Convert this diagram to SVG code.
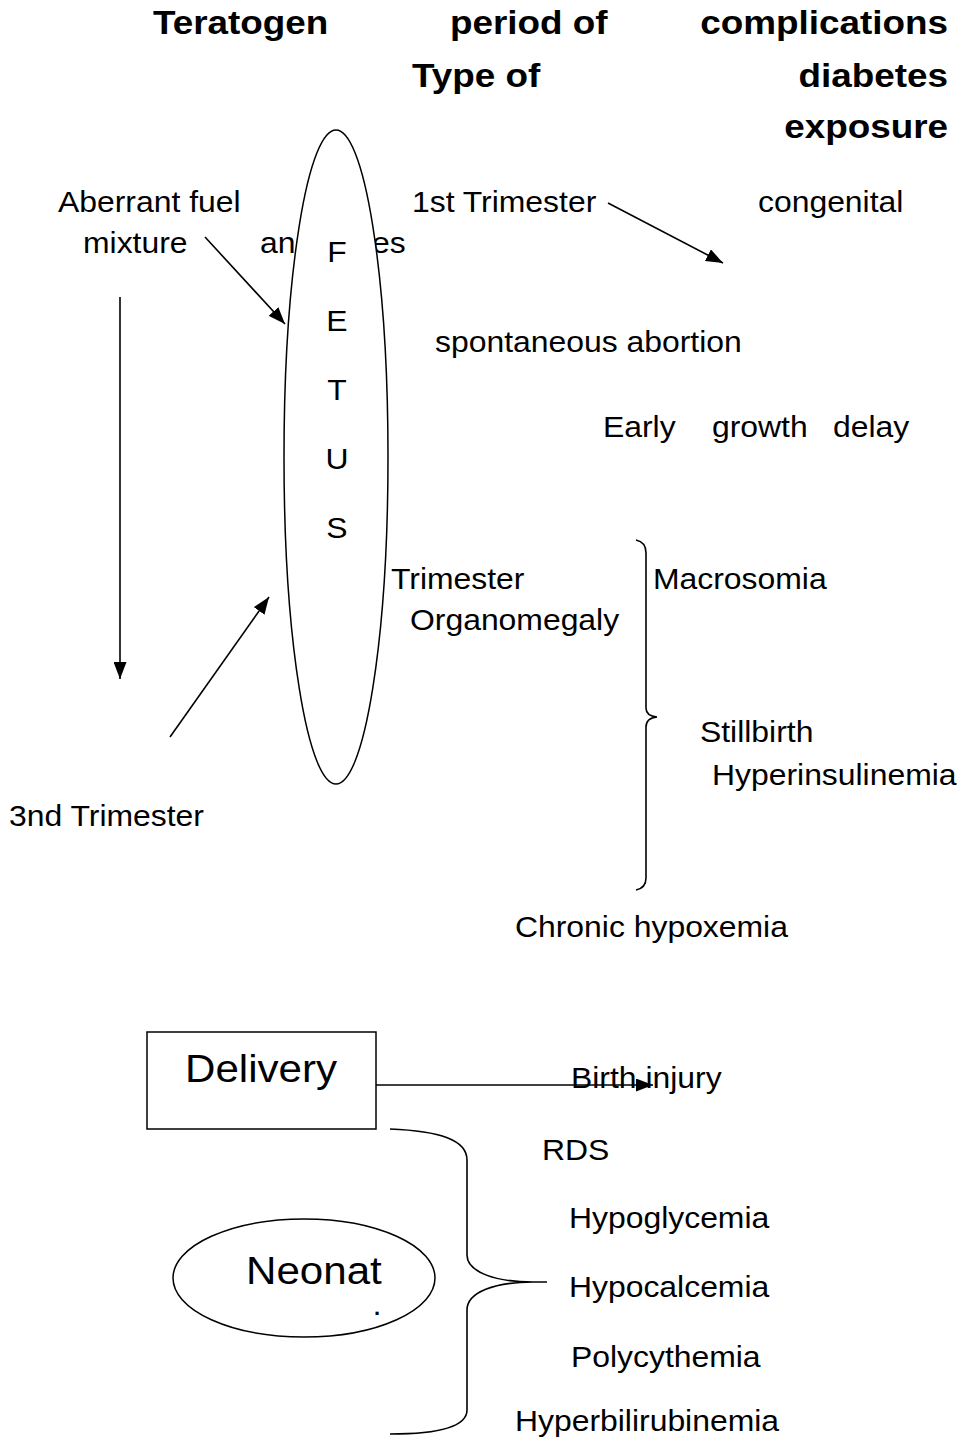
<svg xmlns="http://www.w3.org/2000/svg" width="962" height="1442" viewBox="0 0 962 1442">
<style>
  .t { font-family: "Liberation Sans", Arial, sans-serif; font-size: 29px; fill: #000; }
  .h { font-weight: bold; font-size: 33.5px; }
  .b { font-size: 39px; }
  .c { text-anchor: middle; }
  .d { font-size: 22px; font-weight: bold; }
  .ln { stroke: #000; stroke-width: 1.6; fill: none; }
  .sh { stroke: #000; stroke-width: 1.5; fill: #fff; }
</style>
<defs>
  <marker id="ah" viewBox="0 0 17 13" refX="17" refY="6.5" markerWidth="17" markerHeight="13" markerUnits="userSpaceOnUse" orient="auto">
    <path d="M0,0 L17,6.5 L0,13 z" fill="#000"/>
  </marker>
</defs>
<rect width="962" height="1442" fill="#fff"/>

<g id="title">
  <text class="t h" transform="translate(153,34) scale(1.1,1)"><tspan x="0">Teratogen</tspan><tspan x="270">period of</tspan><tspan x="722.7" text-anchor="end">complications</tspan></text>
  <text class="t h" transform="translate(412,87) scale(1.1,1)"><tspan x="0">Type of</tspan><tspan x="487.3" text-anchor="end">diabetes</tspan></text>
  <text class="t h" text-anchor="end" transform="translate(948,138) scale(1.1,1)">exposure</text>
</g>

<g id="teratogen-label">
  <text class="t" transform="translate(58,212) scale(1.1,1)">Aberrant fuel</text>
  <text class="t" transform="translate(83,253) scale(1.1,1)">mixture</text>
  <text class="t" transform="translate(260,253) scale(1.1,1)">an</text>
  <text class="t" transform="translate(372,253) scale(1.1,1)">es</text>
</g>

<g id="second-trimester">
  <text class="t" transform="translate(391,589) scale(1.1,1)">Trimester</text>
</g>

<g id="fetus">
  <ellipse class="sh" cx="336" cy="457" rx="52" ry="327"/>
  <text class="t c" transform="translate(337,262) scale(1.1,1)">F</text>
  <text class="t c" transform="translate(337,331) scale(1.1,1)">E</text>
  <text class="t c" transform="translate(337,400) scale(1.1,1)">T</text>
  <text class="t c" transform="translate(337,469) scale(1.1,1)">U</text>
  <text class="t c" transform="translate(337,538) scale(1.1,1)">S</text>
</g>

<g id="first-trimester">
  <text class="t" transform="translate(412,212) scale(1.1,1)">1st Trimester</text>
</g>
<g id="congenital">
  <text class="t" transform="translate(758,212) scale(1.1,1)">congenital</text>
</g>
<g id="abortion">
  <text class="t" transform="translate(435,352) scale(1.1,1)">spontaneous abortion</text>
</g>
<g id="growth-delay">
  <text class="t" transform="translate(603,437) scale(1.1,1)"><tspan x="0">Early</tspan><tspan x="99.1">growth</tspan><tspan x="209.1">delay</tspan></text>
</g>
<g id="organomegaly">
  <text class="t" transform="translate(410,630) scale(1.1,1)">Organomegaly</text>
</g>
<g id="third-trimester-complications">
  <text class="t" transform="translate(653,589) scale(1.1,1)">Macrosomia</text>
  <text class="t" transform="translate(700,742) scale(1.1,1)">Stillbirth</text>
  <text class="t" transform="translate(712,785) scale(1.1,1)">Hyperinsulinemia</text>
</g>
<g id="third-trimester">
  <text class="t" transform="translate(9,826) scale(1.1,1)">3nd Trimester</text>
</g>
<g id="hypoxemia">
  <text class="t" transform="translate(515,937) scale(1.1,1)">Chronic hypoxemia</text>
</g>

<g id="delivery">
  <rect class="sh" x="147" y="1032" width="229" height="97"/>
  <text class="t b" transform="translate(185,1082) scale(1.08,1)">Delivery</text>
</g>
<g id="birth-injury">
  <text class="t" transform="translate(571,1088) scale(1.1,1)">Birth injury</text>
</g>

<g id="neonate">
  <ellipse class="sh" cx="304" cy="1278" rx="131" ry="59"/>
  <text class="t b" transform="translate(246,1284) scale(1.08,1)">Neonat</text>
  <text class="t d" transform="translate(374,1315)">.</text>
</g>

<g id="neonatal-complications">
  <text class="t" transform="translate(542,1160) scale(1.1,1)">RDS</text>
  <text class="t" transform="translate(569,1228) scale(1.1,1)">Hypoglycemia</text>
  <text class="t" transform="translate(569,1297) scale(1.1,1)">Hypocalcemia</text>
  <text class="t" transform="translate(571,1367) scale(1.1,1)">Polycythemia</text>
  <text class="t" transform="translate(515,1431) scale(1.1,1)">Hyperbilirubinemia</text>
</g>

<g id="connectors">
  <line class="ln" x1="205" y1="237" x2="285" y2="324" marker-end="url(#ah)"/>
  <line class="ln" x1="608" y1="203" x2="723" y2="263" marker-end="url(#ah)"/>
  <line class="ln" x1="120" y1="297" x2="120" y2="679" marker-end="url(#ah)"/>
  <line class="ln" x1="170" y1="737" x2="269" y2="597" marker-end="url(#ah)"/>
  <line class="ln" x1="376" y1="1085" x2="653" y2="1085" stroke-width="2.4" marker-end="url(#ah)"/>
  <path class="ln" d="M636,540 Q646,542 646,553 L646,708 Q646,716 657,717 Q646,718 646,727 L646,878 Q646,888 636,890"/>
  <path class="ln" d="M390,1129 C440,1131 467,1140 467,1160 L467,1255 C467,1272 495,1282 533,1282 L547,1282 M533,1282 C495,1282 467,1292 467,1310 L467,1410 C467,1426 440,1434 390,1434"/>
</g>
</svg>
